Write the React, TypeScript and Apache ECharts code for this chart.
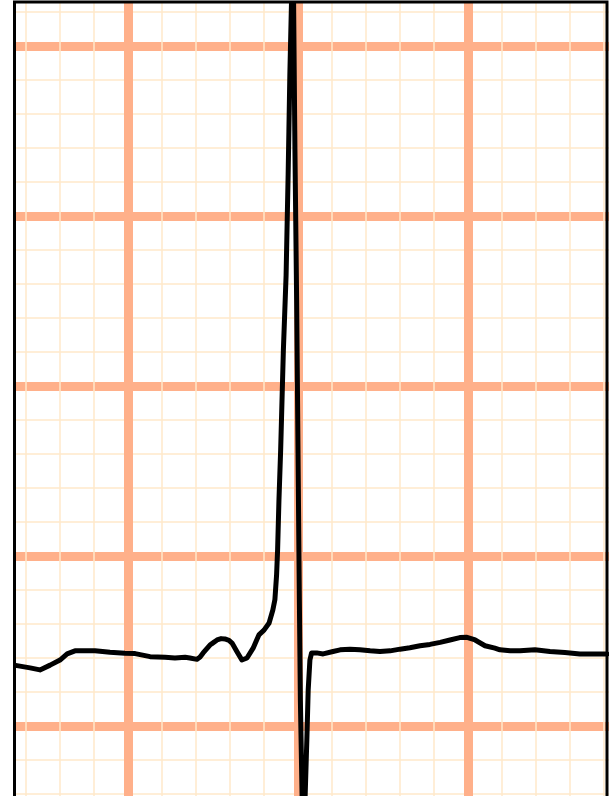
import React, { useEffect, useRef } from "react";
import * as echarts from "echarts";

// ECG trace, x in small-grid units (1 unit = 1 small square), y in small-grid units
const timeValues = [
  -3.35, -2.88, -2.59, -2.29, -2.0, -1.79, -1.56, -0.97, -0.53, -0.09, 0.21, 0.65, 1.09, 1.38, 1.68,
  1.82, 2.03, 2.12, 2.21, 2.41, 2.62, 2.74, 2.85, 2.97, 3.06, 3.21, 3.35, 3.5, 3.68, 3.85, 4.0, 4.15, 4.26, 4.32,
  4.37, 4.4, 4.44, 4.49, 4.57, 4.65, 4.71, 4.76, 4.81, 4.84, 4.87, 4.91, 4.96, 5.0, 5.04, 5.07, 5.12, 5.16,
  5.21, 5.26, 5.3, 5.35, 5.4, 5.55, 5.74, 6.03, 6.24, 6.53, 6.82, 7.12, 7.41, 7.71, 8.0, 8.29,
  8.59, 8.88, 9.18, 9.47, 9.76, 9.97, 10.21, 10.5, 10.79, 10.94, 11.24, 11.53, 11.97, 12.41,
  12.85, 13.29, 13.74, 14.09,
];
const voltageValues = [
  1.79, 1.71, 1.65, 1.79, 1.94, 2.12, 2.21, 2.21, 2.17, 2.14, 2.13, 2.04, 2.02, 2.0, 2.02,
  2.0, 1.96, 2.03, 2.15, 2.38, 2.53, 2.57, 2.56, 2.52, 2.44, 2.18, 1.94, 2.0, 2.29, 2.68, 2.82, 3.03, 3.41, 3.71,
  4.44, 5.18, 6.65, 8.12, 11.06, 13.26, 16.21, 19.15, 21.35, 22.24, 21.35, 16.94, 12.53, 8.12, 3.71, 0.76, -2.06, -3.06,
  -2.06, -0.41, 1.06, 1.94, 2.15, 2.15, 2.12, 2.19, 2.24, 2.26, 2.24, 2.21, 2.19, 2.21, 2.26, 2.3,
  2.36, 2.4, 2.46, 2.53, 2.6, 2.61, 2.53, 2.36, 2.29, 2.24, 2.21, 2.21, 2.24, 2.19,
  2.16, 2.12, 2.12, 2.12,
];

// Grid paper extents (small-grid units), major every 5 small squares
const xRange = [-5, 15];
const yRange = [-5, 25];
const majorStep = 5;
const minorPerMajor = 5;

// the paper is larger than the window; it is offset so the window shows a crop
const OFF_X = 42;
const OFF_Y = 124;

export default function App() {
  const ref = useRef<HTMLDivElement>(null);
  useEffect(() => {
    if (!ref.current) return;
    const chart = echarts.init(ref.current, null, { renderer: "svg" });
    const data = timeValues.map((t, i) => [t, voltageValues[i]]);
    const axisCommon = {
      type: "value",
      interval: majorStep,
      axisLine: { show: false },
      axisTick: { show: false },
      axisLabel: { show: false },
      splitLine: { show: true, lineStyle: { color: "#ffb08a", width: 9 } },
      minorTick: { show: false, splitNumber: minorPerMajor },
      minorSplitLine: { show: true, lineStyle: { color: "#ffe8ca", width: 1.5 } },
    };
    chart.setOption({
      animation: false,
      backgroundColor: "#ffffff",
      grid: { left: 0, top: 0, right: 0, bottom: 0, show: false },
      xAxis: { ...axisCommon, min: xRange[0], max: xRange[1] },
      yAxis: { ...axisCommon, min: yRange[0], max: yRange[1] },
      series: [
        {
          type: "line",
          data,
          showSymbol: false,
          symbol: "none",
          clip: false,
          smooth: false,
          lineStyle: { color: "#000000", width: 5, join: "round", cap: "round" },
          z: 5,
        },
      ],
      graphic: [
        { type: "rect", z: 100, shape: { x: OFF_X, y: OFF_Y, width: 13, height: 796 }, style: { fill: "#ffffff" } },
        { type: "rect", z: 100, shape: { x: OFF_X + 609, y: OFF_Y, width: 2, height: 796 }, style: { fill: "#ffffff" } },
        { type: "rect", z: 100, shape: { x: OFF_X, y: OFF_Y, width: 611, height: 1 }, style: { fill: "#ffffff" } },
        {
          type: "rect",
          z: 101,
          shape: { x: OFF_X + 14.5, y: OFF_Y + 2, width: 592.5, height: 900 },
          style: { fill: "none", stroke: "#000000", lineWidth: 3 },
        },
      ],
    });
    return () => chart.dispose();
  }, []);
  return (
    <div
      ref={ref}
      style={{ position: "fixed", left: -OFF_X, top: -OFF_Y, width: 680, height: 1020 }}
    />
  );
}
